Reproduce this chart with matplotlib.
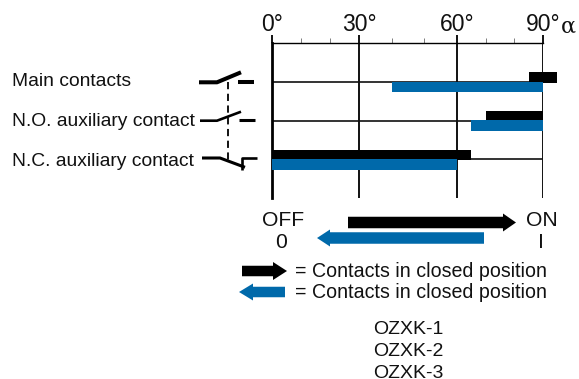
import numpy as np
import matplotlib
matplotlib.use('Agg')
import matplotlib.pyplot as plt
from matplotlib.patches import Polygon

plt.rcParams['font.family'] = ['Liberation Sans', 'DejaVu Sans']

# contacts, top to bottom
contacts = ['Main contacts', 'N.O. auxiliary contact', 'N.C. auxiliary contact']
rows = [1, 2, 3]
black_start = [85, 70, 0]
black_end = [95, 90, 65]
blue_start = [40, 65, 0]
blue_end = [90, 90, 60]
major_angles = [0, 30, 60, 90]
major_labels = ['0°', '30°', '60°', '90°']
minor_angles = [10, 20, 40, 50, 70, 80]
models = ['OZXK-1', 'OZXK-2', 'OZXK-3']
BLUE = '#0069aa'

# the angle scale of the drawing is not quite even
knot_deg = [-30, 0, 30, 60, 90, 120]
knot_pos = [-87, 0, 87, 185, 271, 357]


def forward(v):
    return np.interp(v, knot_deg, knot_pos)


def inverse(v):
    return np.interp(v, knot_pos, knot_deg)


fig = plt.figure(figsize=(5.79, 3.79), dpi=100)

# overlay in pixels for the switch symbols, arrows and labels
bg = fig.add_axes([0, 0, 1, 1])
bg.set_xlim(0, 579)
bg.set_ylim(379, 0)
bg.axis('off')

ax = fig.add_axes([272 / 579, 1 - 198 / 379, 271 / 579, 155 / 379])
ax.patch.set_alpha(0)
ax.set_xscale('function', functions=(forward, inverse))
ax.set_xlim(0, 90)
ax.set_ylim(4, 0)
ax.xaxis.tick_top()
ax.set_xticks(major_angles)
ax.set_xticklabels(major_labels, fontsize=16.5, color='#111111')
ax.set_xticks(minor_angles, minor=True)
ax.set_yticks(rows)
ax.set_yticklabels([])
ax.tick_params(axis='x', which='major', length=6, width=1.4, pad=-1, color='#111111')
ax.tick_params(axis='x', which='minor', length=3.5, width=0.6, color='#666666')
ax.tick_params(axis='y', length=0)
ax.grid(True, axis='x', which='major', color='#111111', lw=1.4)
ax.grid(True, axis='y', color='#111111', lw=1.2)
ax.set_axisbelow(True)
for s in ['right', 'bottom']:
    ax.spines[s].set_visible(False)
ax.spines['top'].set_linewidth(1.0)
ax.spines['left'].set_linewidth(2.0)

w1 = [e - s for s, e in zip(black_start, black_end)]
w2 = [e - s for s, e in zip(blue_start, blue_end)]
ax.barh([r - 0.11 for r in rows], w1, left=black_start, height=0.27, color='black',
        clip_on=False, zorder=3)
ax.barh([r + 0.13 for r in rows], w2, left=blue_start, height=0.27, color=BLUE,
        clip_on=False, zorder=4)

bg.text(561, 27, 'α', family='DejaVu Serif', fontsize=16, va='center', color='#111111')

for name, y in zip(contacts, [81.5, 121.5, 162]):
    bg.text(12, y, name, fontsize=13.9, va='center', color='#111111')


def sym(xs, ys, lw):
    bg.plot(xs, ys, color='black', lw=lw, solid_capstyle='butt', solid_joinstyle='round')


# switch symbols
sym([199, 217, 241], [82.3, 82.3, 72.3], 2.9)
sym([238, 254], [81.7, 81.7], 2.9)
sym([200, 217, 241], [120.7, 120.7, 111.7], 1.9)
sym([239, 255], [120.3, 120.3], 2.2)
sym([202, 220, 245], [158, 158, 167.3], 2.2)
sym([257, 242, 242], [157.7, 157.7, 170], 1.9)
bg.plot([227.7, 227.7], [82, 160], color='black', lw=1.3, dashes=(4, 2.5))


def arrow(x0, x1, y, body, head, hlen, color):
    d = 1 if x1 > x0 else -1
    xb = x1 - d * hlen
    pts = [(x0, y - body / 2), (xb, y - body / 2), (xb, y - head / 2), (x1, y),
           (xb, y + head / 2), (xb, y + body / 2), (x0, y + body / 2)]
    bg.add_patch(Polygon(pts, closed=True, color=color, lw=0))


arrow(348, 516, 222.5, 11.5, 18, 13, 'black')
arrow(484, 317, 238, 11.5, 17, 13, BLUE)
arrow(242, 287, 271, 10.5, 18, 14, 'black')
arrow(285, 239, 292, 10.5, 17, 14, BLUE)

bg.text(283, 220, 'OFF', fontsize=15.2, ha='center', va='center', color='#111111')
bg.text(281, 242, '0', fontsize=15.2, ha='center', va='center', color='#111111')
bg.text(542, 220, 'ON', fontsize=15.2, ha='center', va='center', color='#111111')
bg.text(541, 242, 'I', fontsize=15.2, ha='center', va='center', color='#111111')

bg.text(295, 271.5, '= Contacts in closed position', fontsize=14.1, va='center', color='#111111')
bg.text(295, 292.5, '= Contacts in closed position', fontsize=14.1, va='center', color='#111111')

for name, y in zip(models, [330, 352, 374]):
    bg.text(373, y, name, fontsize=14, va='center', color='#111111')

fig.savefig('out.png', dpi=100)
